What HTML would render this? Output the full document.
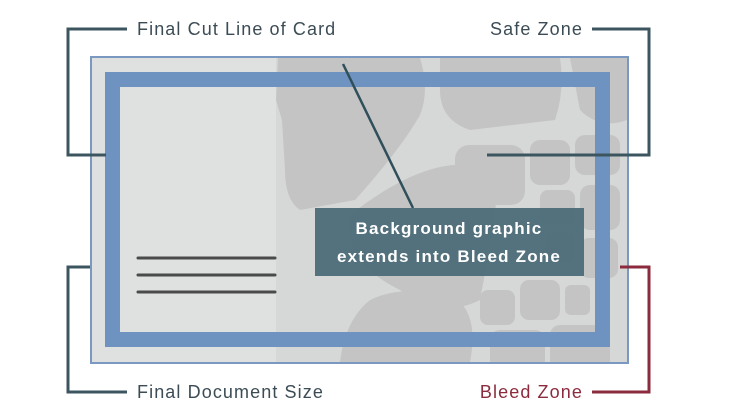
<!DOCTYPE html>
<html><head><meta charset="utf-8"><style>
html,body{margin:0;padding:0;background:#fff;}
svg{display:block}
text{font-family:"Liberation Sans",sans-serif;font-size:18px;letter-spacing:1.1px;}
</style></head><body>
<svg width="729" height="419" viewBox="0 0 729 419">
<rect width="729" height="419" fill="#fff"/>
<rect x="91" y="57" width="537" height="306" fill="#dfe0e0" stroke="#7a98c0" stroke-width="2"/>
<clipPath id="c"><rect x="92" y="58" width="535" height="304"/></clipPath>
<g clip-path="url(#c)" fill="#c4c4c4">
<rect x="276" y="58" width="351" height="304" fill="#d6d7d7"/>
<path d="M278 58 L420 58 Q430 90 420 115 Q400 150 355 200 L300 210 Q285 200 285 170 L282 120 L276 100 Z"/>
<path d="M440 58 L560 58 Q565 90 555 120 L470 130 Q440 120 440 90 Z"/>
<path d="M570 58 L627 58 L627 120 Q600 130 580 110 Z"/>
<path d="M350 215 Q420 160 470 165 Q500 175 495 220 L480 300 Q440 320 400 290 Q340 260 350 215 Z"/>
<rect x="455" y="145" width="70" height="60" rx="14"/>
<rect x="530" y="140" width="40" height="45" rx="10"/>
<rect x="575" y="135" width="45" height="40" rx="10"/>
<rect x="540" y="190" width="35" height="35" rx="8"/>
<rect x="580" y="185" width="40" height="45" rx="10"/>
<rect x="545" y="232" width="30" height="30" rx="7"/>
<rect x="580" y="238" width="38" height="40" rx="9"/>
<rect x="520" y="280" width="40" height="40" rx="9"/>
<rect x="565" y="285" width="25" height="30" rx="6"/>
<rect x="480" y="290" width="35" height="35" rx="8"/>
<path d="M370 300 Q400 285 450 295 Q480 310 470 362 L340 362 Q345 320 370 300 Z"/>
<rect x="490" y="330" width="55" height="40" rx="10"/>
<rect x="550" y="325" width="60" height="45" rx="10"/>
</g>
<rect x="112.5" y="79.5" width="490" height="260" fill="none" stroke="#6f93c0" stroke-width="15"/>
<g stroke="#4a4a4a" stroke-width="3" stroke-linecap="round">
<line x1="138" y1="258" x2="275" y2="258"/>
<line x1="138" y1="275" x2="275" y2="275"/>
<line x1="138" y1="292" x2="275" y2="292"/>
</g>
<line x1="343" y1="64" x2="413" y2="208" stroke="#2f4f5a" stroke-width="2.5"/>
<rect x="315" y="208" width="269" height="68" fill="#4e6e7b" opacity="0.97"/>
<text x="449" y="234" text-anchor="middle" fill="#fff" font-weight="bold" style="font-size:17px;letter-spacing:1.2px">Background graphic</text>
<text x="449" y="262" text-anchor="middle" fill="#fff" font-weight="bold" style="font-size:17px;letter-spacing:1.2px">extends into Bleed Zone</text>
<g fill="none" stroke="#3c5660" stroke-width="3">
<polyline points="127,29 68,29 68,155 106,155"/>
<polyline points="592,29 649,29 649,155 487,155"/>
<polyline points="90,267 68,267 68,392 127,392"/>
</g>
<polyline points="620,267 649,267 649,392 592,392" fill="none" stroke="#8b2b3d" stroke-width="3"/>
<text x="137" y="35" fill="#3c4c55">Final Cut Line of Card</text>
<text x="583" y="35" text-anchor="end" fill="#3c4c55">Safe Zone</text>
<text x="137" y="398" fill="#3c4c55">Final Document Size</text>
<text x="583" y="398" text-anchor="end" fill="#8b2b3d">Bleed Zone</text>
</svg>
</body></html>
